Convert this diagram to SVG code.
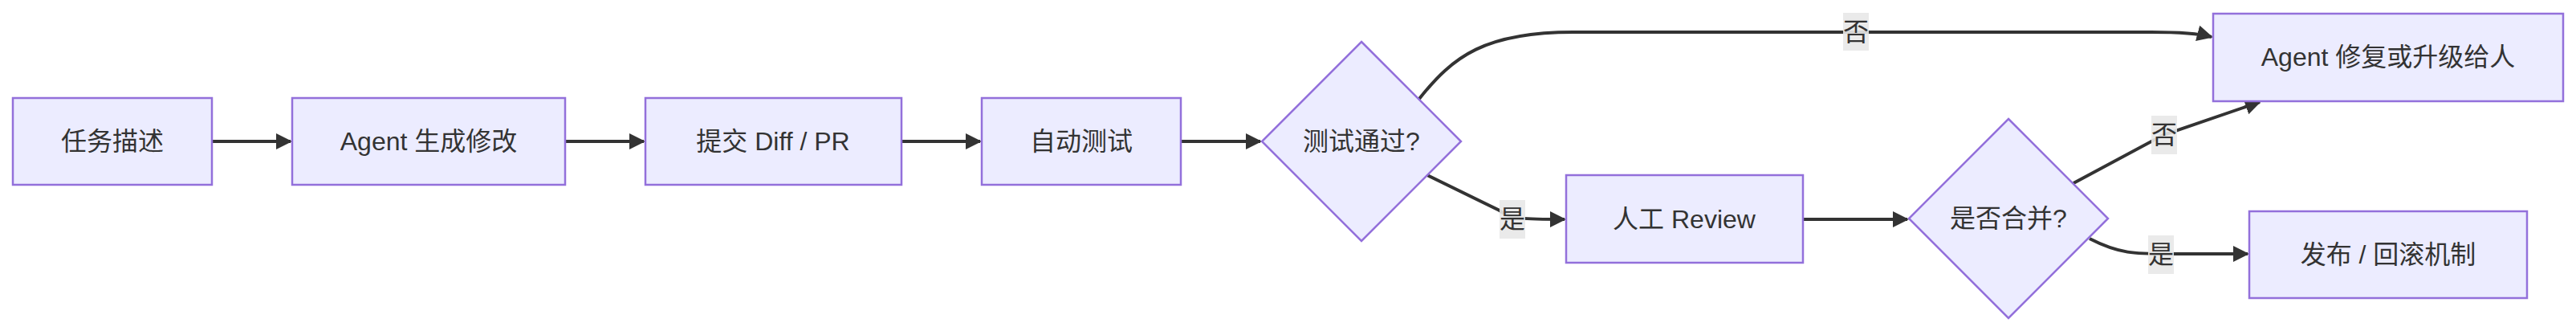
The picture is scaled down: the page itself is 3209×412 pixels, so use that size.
<svg xmlns="http://www.w3.org/2000/svg" width="3209" height="412" viewBox="0 0 3209 412">
<style>
.n{fill:#ECECFF;stroke:#9370DB;stroke-width:2.5}
text{font-family:"Liberation Sans","Noto Sans CJK SC",sans-serif;font-size:32px;fill:#333;text-anchor:middle;dominant-baseline:central}
.e{fill:none;stroke:#333;stroke-width:4}
.lb{fill:#e8e8e8;opacity:0.9}
</style>
<defs><marker id="a" viewBox="0 0 10 10" refX="9" refY="5" markerWidth="5" markerHeight="5" orient="auto"><path d="M0,0L10,5L0,10z" fill="#333"/></marker></defs>
<g id="edges">
<path class="e" d="M264,176H362" marker-end="url(#a)"/>
<path class="e" d="M704,176H802" marker-end="url(#a)"/>
<path class="e" d="M1123,176H1221" marker-end="url(#a)"/>
<path class="e" d="M1471,176H1570" marker-end="url(#a)"/>
<path class="e" d="M1768,123C1810,70 1850,40 1960,40H2680C2720,40 2740,42 2755,46" marker-end="url(#a)"/>
<path class="e" d="M1778,218L1868,262C1880,273 1900,273 1949,273" marker-end="url(#a)"/>
<path class="e" d="M2246,273H2376" marker-end="url(#a)"/>
<path class="e" d="M2583,228L2695,168L2815,127" marker-end="url(#a)"/>
<path class="e" d="M2603,297C2640,316 2660,316 2700,316H2800" marker-end="url(#a)"/>
<rect class="lb" x="2296" y="16" width="32" height="47"/><text x="2312" y="40">否</text>
<rect class="lb" x="1868" y="249" width="32" height="48"/><text x="1884" y="273">是</text>
<rect class="lb" x="2680" y="144" width="32" height="48"/><text x="2696" y="168">否</text>
<rect class="lb" x="2676" y="293" width="32" height="48"/><text x="2692" y="317">是</text>
</g>
<g id="n1"><rect class="n" x="16" y="122" width="248" height="108"/><text x="140" y="176">任务描述</text></g>
<g id="n2"><rect class="n" x="364" y="122" width="340" height="108"/><text x="534" y="176">Agent 生成修改</text></g>
<g id="n3"><rect class="n" x="804" y="122" width="319" height="108"/><text x="963" y="176">提交 Diff / PR</text></g>
<g id="n4"><rect class="n" x="1223" y="122" width="248" height="108"/><text x="1347" y="176">自动测试</text></g>
<g id="d1"><path class="n" d="M1696,52L1820,176L1696,300L1572,176z"/><text x="1696" y="176">测试通过?</text></g>
<g id="n5"><rect class="n" x="1951" y="218" width="295" height="109"/><text x="2098" y="273">人工 Review</text></g>
<g id="d2"><path class="n" d="M2502,148L2626,272L2502,396L2378,272z"/><text x="2502" y="272">是否合并?</text></g>
<g id="n6"><rect class="n" x="2757" y="17" width="436" height="109"/><text x="2975" y="71">Agent 修复或升级给人</text></g>
<g id="n7"><rect class="n" x="2802" y="263" width="346" height="108"/><text x="2975" y="317">发布 / 回滚机制</text></g>
</svg>
